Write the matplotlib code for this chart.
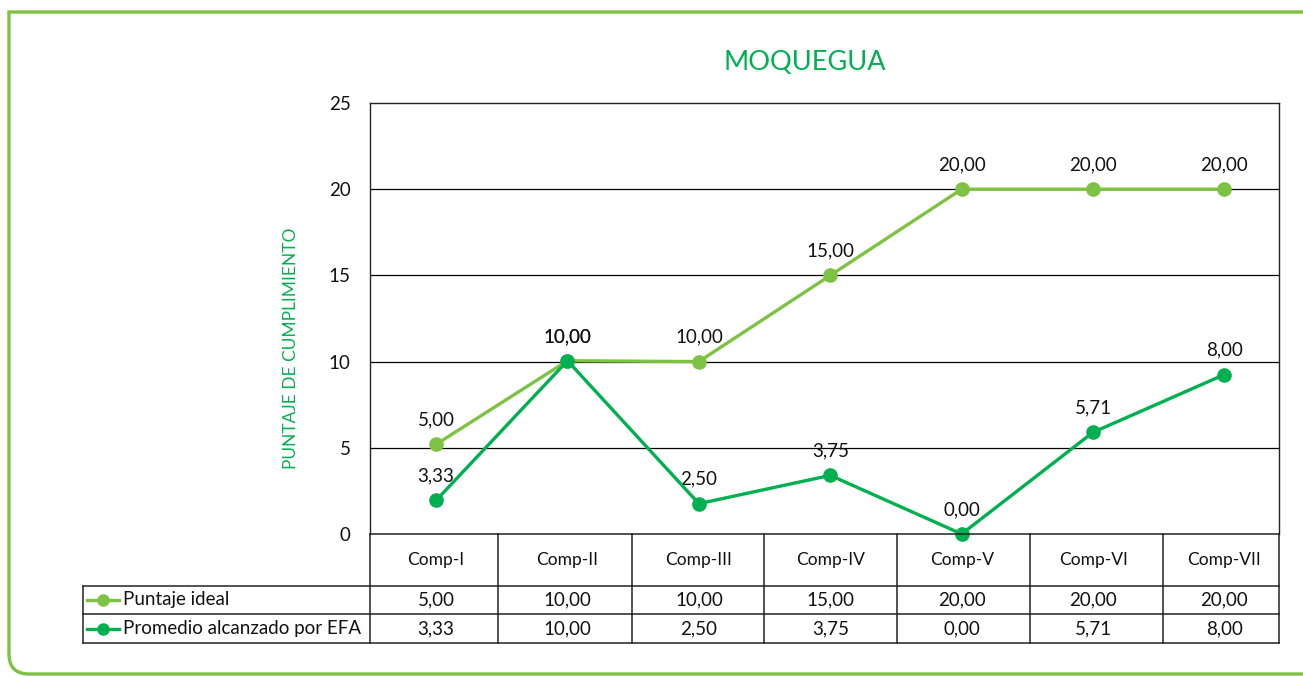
import matplotlib
matplotlib.use("Agg")
import matplotlib.pyplot as plt
from matplotlib.lines import Line2D
from matplotlib.path import Path
from matplotlib.patches import PathPatch
import matplotlib.transforms as mtransforms

plt.rcParams['font.family'] = ['Lato', 'DejaVu Sans']

# ---- data ----
categories = ["Comp-I", "Comp-II", "Comp-III", "Comp-IV", "Comp-V", "Comp-VI", "Comp-VII"]
series_names = ["Puntaje ideal", "Promedio alcanzado por EFA"]
# positions of the points as drawn in the picture
ideal_plotted = [5.2, 10.05, 10.0, 15.0, 20.0, 20.0, 20.0]
promedio_plotted = [1.95, 10.05, 1.76, 3.4, 0.0, 5.9, 9.25]
# values written in labels / table
ideal_labels = ["5,00", "10,00", "10,00", "15,00", "20,00", "20,00", "20,00"]
promedio_labels = ["3,33", "10,00", "2,50", "3,75", "0,00", "5,71", "8,00"]
yticks = [0, 5, 10, 15, 20, 25]
title = "MOQUEGUA"
ylabel = "PUNTAJE DE CUMPLIMIENTO"

C_IDEAL = "#7DC242"
C_PROM = "#00B050"
C_TITLE = "#00B050"
TXT = "#111111"

W, H = 1303, 676
fig = plt.figure(figsize=(W / 100, H / 100), dpi=100)

def fx(px):
    return px / W

def fy(py):
    return 1 - py / H

AX_L, AX_R, AX_T, AX_B = 370, 1279, 103, 534
ax = fig.add_axes([fx(AX_L), fy(AX_B), (AX_R - AX_L) / W, (AX_B - AX_T) / H])
n = len(categories)
ax.set_xlim(-0.503, 6.415)
ax.set_ylim(0, 25)
ax.set_yticks(yticks)
ax.set_yticklabels([str(t) for t in yticks], fontsize=13.5, color=TXT)
ax.tick_params(axis='y', length=0, pad=14)
ax.set_xticks([])
for t in yticks[1:-1]:
    ax.axhline(t, color="black", lw=0.9, zorder=1)
for s in ["left", "top", "right"]:
    ax.spines[s].set_color("#222222")
    ax.spines[s].set_linewidth(1.0)
ax.spines["bottom"].set_visible(False)

x = list(range(n))
ax.plot(x, ideal_plotted, color=C_IDEAL, lw=2.4, marker='o', ms=9.5, zorder=3, clip_on=False)
ax.plot(x, promedio_plotted, color=C_PROM, lw=2.4, marker='o', ms=9.5, zorder=4, clip_on=False)
for xi, yv, lab in zip(x, ideal_plotted, ideal_labels):
    ax.annotate(lab, (xi, yv), xytext=(0, 17.5), textcoords='offset points',
                ha='center', va='center', fontsize=13.5, color=TXT)
for xi, yv, lab in zip(x, promedio_plotted, promedio_labels):
    ax.annotate(lab, (xi, yv), xytext=(0, 17.5), textcoords='offset points',
                ha='center', va='center', fontsize=13.5, color=TXT)

# title & y label
fig.text(fx(805), fy(63), title, ha='center', va='center', fontsize=19.5, color=C_TITLE)
fig.text(fx(291), fy(348), ylabel, ha='center', va='center', rotation=90,
         fontsize=12.5, color=C_TITLE)

# ---- data table ----
ROW0, ROW1, ROW2, ROW3 = 534, 586, 614, 643
TBL_L = 83
COL_DIVS = [498, 632, 764, 897, 1030, 1163]
lc = "#222222"
lw = 1.1

def hline(y, x0, x1):
    fig.add_artist(Line2D([fx(x0), fx(x1)], [fy(y), fy(y)], color=lc, lw=lw))

def vline(xp, y0, y1):
    fig.add_artist(Line2D([fx(xp), fx(xp)], [fy(y0), fy(y1)], color=lc, lw=lw))

hline(ROW0, AX_L, AX_R)
hline(ROW1, TBL_L, AX_R)
hline(ROW2, TBL_L, AX_R)
hline(ROW3, TBL_L, AX_R)
vline(TBL_L, ROW1, ROW3)
vline(AX_L, ROW0, ROW3)
vline(AX_R, ROW0, ROW3)
for xd in COL_DIVS:
    vline(xd, ROW0, ROW3)

blend = mtransforms.blended_transform_factory(ax.transData, fig.transFigure)
for i, cat in enumerate(categories):
    ax.text(i, fy((ROW0 + ROW1) / 2), cat, transform=blend, ha='center', va='center',
            fontsize=12.5, color=TXT, clip_on=False)
    ax.text(i, fy((ROW1 + ROW2) / 2), ideal_labels[i], transform=blend, ha='center',
            va='center', fontsize=13.5, color=TXT, clip_on=False)
    ax.text(i, fy((ROW2 + ROW3) / 2), promedio_labels[i], transform=blend, ha='center',
            va='center', fontsize=13.5, color=TXT, clip_on=False)

# legend keys in table
for row_c, col, name in [((ROW1 + ROW2) / 2, C_IDEAL, series_names[0]),
                         ((ROW2 + ROW3) / 2, C_PROM, series_names[1])]:
    fig.add_artist(Line2D([fx(87), fx(119)], [fy(row_c), fy(row_c)], color=col, lw=2.4))
    fig.add_artist(Line2D([fx(103)], [fy(row_c)], color=col, marker='o', ms=8, lw=0))
    fig.text(fx(123), fy(row_c), name, ha='left', va='center', fontsize=13.5, color=TXT)

# green frame with rounded bottom-left corner
r = 20
verts = [(W + 20, 12), (9, 12), (9, 674 - r), (9, 674), (9 + r, 674), (W + 20, 674)]
codes = [Path.MOVETO, Path.LINETO, Path.LINETO, Path.CURVE3, Path.CURVE3, Path.LINETO]
verts_f = [(fx(a), fy(b)) for a, b in verts]
fig.add_artist(PathPatch(Path(verts_f, codes), fill=False, edgecolor=C_IDEAL, lw=2.4,
                         transform=fig.transFigure))

fig.savefig("out.png", dpi=100)
